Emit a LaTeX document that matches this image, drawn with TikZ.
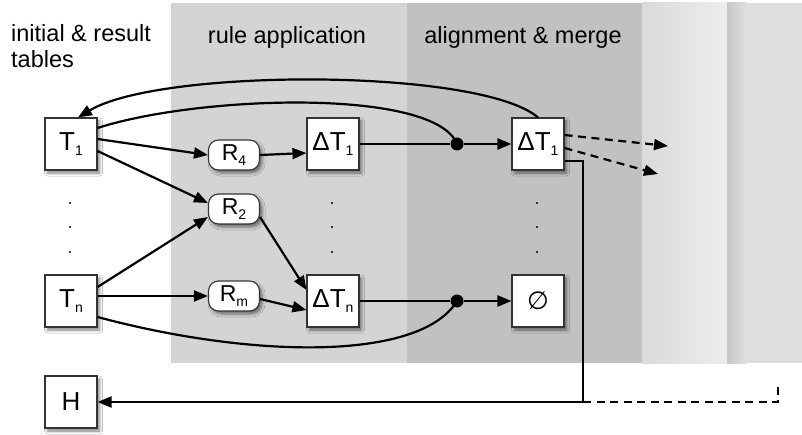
\documentclass[tikz,border=0pt]{standalone}
\usepackage{fontspec}
\setmainfont{Liberation Sans}
\newfontfamily\djv{DejaVu Sans}
\usetikzlibrary{arrows.meta,shadows.blur}
\definecolor{bandA}{RGB}{212,212,212}
\definecolor{bandB}{RGB}{193,193,193}
\definecolor{bandC1}{RGB}{218,218,218}
\definecolor{bandC2}{RGB}{237,237,237}
\definecolor{bandD0}{RGB}{200,200,200}
\definecolor{bandD}{RGB}{222,222,222}
\newcommand{\lowsub}[1]{\raisebox{-5pt}{\fontsize{14}{14}\selectfont #1}}
\begin{document}
\begin{tikzpicture}[x=1pt,y=-1pt,
 tbl/.style={draw=black!80, line width=1.1pt, fill=white, minimum width=52pt, minimum height=52pt, inner sep=0pt,
   font=\fontsize{26}{26}\selectfont,
   blur shadow={shadow xshift=2.5pt, shadow yshift=-3pt, shadow blur radius=3pt, shadow opacity=50}},
 rulebox/.style={tbl, rounded corners=10pt, minimum width=51pt, minimum height=30pt, font=\fontsize{23}{23}\selectfont},
 conn/.style={line width=2.2pt},
 arr/.style={conn, -{Triangle[length=14pt,width=11pt]}},
 dashy/.style={dash pattern=on 8pt off 5.5pt},
 dot/.style={circle, fill=black, inner sep=0pt, minimum size=13pt},
 title/.style={font=\fontsize{23.5}{27}\selectfont, inner sep=0pt}
]
\useasboundingbox (0,0) rectangle (802,435);
\fill[white] (0,0) rectangle (802,435);
% bands
\fill[bandA] (171,3) rectangle (407,363);
\fill[bandB] (407,3) rectangle (642,363);
\shade[left color=bandC1, right color=bandC2] (642,3) rectangle (727,363);
\fill[bandD] (727,3) rectangle (802,363);
\shade[left color=bandD0, right color=bandD] (727,3) rectangle (746,363);
% titles
\node[title, anchor=base west] (ttl1) at (11,42) {initial \& result};
\node[title, anchor=base west] (ttl1b) at (11,68) {tables};
\node[title, anchor=base] (ttl2) at (287,44) {rule application};
\node[title, anchor=base] (ttl3) at (523,44) {alignment \& merge};
% nodes
\node[tbl] (T1) at (71,144) {T\lowsub{1}};
\node[tbl] (Tn) at (71,301) {T\lowsub{n}};
\node[tbl] (H) at (71,402) {H};
\node[rulebox] (R4) at (234,155) {R\lowsub{4}};
\node[rulebox] (R2) at (234,209) {R\lowsub{2}};
\node[rulebox] (Rm) at (234,296) {R\lowsub{m}};
\node[tbl] (dT1) at (333,144) {ΔT\lowsub{1}};
\node[tbl] (dTn) at (333,301) {ΔT\lowsub{n}};
\node[tbl] (dT1b) at (538,144) {ΔT\lowsub{1}};
\node[tbl] (empty) at (538,301) {{\djv\fontsize{25}{25}\selectfont ∅}};
\node[dot] (j1) at (457,144) {};
\node[dot] (j2) at (457,301) {};
% vertical dots
\foreach \x in {70,332,537} \foreach \y in {203,227,252} \fill (\x,\y) circle (1.2pt);
% free ends
\coordinate (o1) at (668,146);
\coordinate (o2) at (658,174);
\coordinate (c1) at (583,402);
\coordinate (c2) at (778,402);
\coordinate (c3) at (778,382);
% connectors
\draw[arr] ([yshift=5pt]T1.east) -- (R4.west);
\draw[arr] ([yshift=-7pt]T1.east) -- ([yshift=6pt]R2.west);
\draw[arr] ([yshift=14pt]Tn.east) -- ([yshift=-8pt]R2.west);
\draw[arr] ([yshift=5pt]Tn.east) -- (Rm.west);
\draw[arr] (R4.east) -- ([yshift=-9pt]dT1.west);
\draw[arr] ([yshift=-8pt]R2.east) -- ([yshift=11pt]dTn.west);
\draw[arr] ([yshift=-3pt]Rm.east) -- ([yshift=-9pt]dTn.west);
\draw[conn] (dT1.east) -- (j1);
\draw[arr] (j1) -- (dT1b.west);
\draw[conn] (dTn.east) -- (j2);
\draw[arr] (j2) -- (empty.west);
\draw[conn] ([yshift=16pt]T1.east) .. controls (200,95) and (435,88) .. (j1.center);
\draw[arr] (dT1b.north) .. controls (480,68) and (160,68) .. ([xshift=7pt]T1.north);
\draw[conn] ([yshift=-16pt]Tn.east) .. controls (250,358) and (420,362) .. (j2.center);
\draw[arr, dashy] ([yshift=9pt]dT1b.east) -- (o1);
\draw[arr, dashy] ([yshift=-4pt]dT1b.east) -- (o2);
\draw[arr] ([yshift=-17pt]dT1b.east) -| (c1) -- (H.east);
\draw[conn, dashy] (c1) -- (c2) -- (c3);
\end{tikzpicture}
\end{document}
